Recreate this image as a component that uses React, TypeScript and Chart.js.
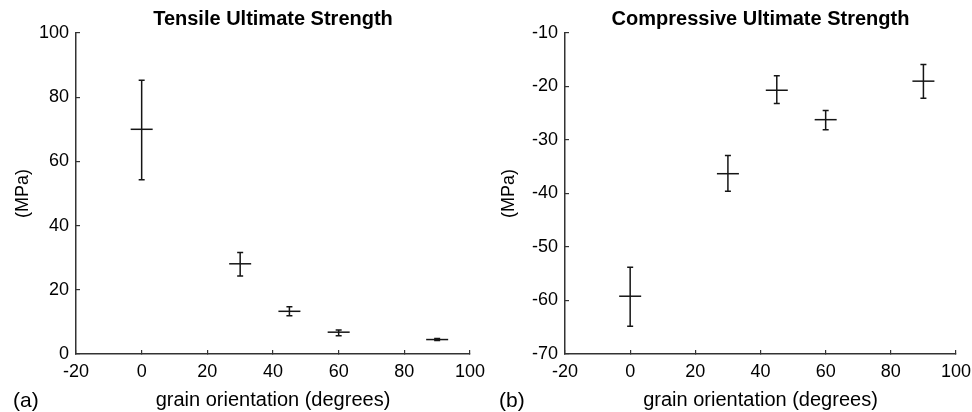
import React, { useEffect, useRef } from "react";
import { Chart, registerables } from "chart.js";

Chart.register(...registerables);

const FONT = "'Liberation Sans', Arial, Helvetica, sans-serif";

// Data
const angles = [0, 30, 45, 60, 90];
const tensileMean = [70, 28.1, 13.3, 6.8, 4.5];
const tensileLow = [54.3, 24.3, 11.9, 5.7, 4.2];
const tensileHigh = [85.3, 31.6, 14.7, 7.5, 4.8];
const compMean = [-59.2, -36.3, -20.7, -26.2, -19.0];
const compLow = [-64.8, -39.6, -23.2, -28.1, -22.2];
const compHigh = [-53.8, -32.9, -18.0, -24.5, -15.9];

const xTicks = [-20, 0, 20, 40, 60, 80, 100];
const tensileTicks = [0, 20, 40, 60, 80, 100];
const compTicks = [-70, -60, -50, -40, -30, -20, -10];

const errorBarPlugin = {
  id: "errorBars",
  afterDatasetsDraw(chart: any) {
    const { ctx, scales } = chart;
    const x = scales.x;
    const y = scales.y;
    chart.data.datasets.forEach((ds: any) => {
      ctx.save();
      ctx.strokeStyle = "#151515";
      ctx.lineWidth = 1.5;
      ds.data.forEach((p: any) => {
        const px = x.getPixelForValue(p.x);
        const yl = y.getPixelForValue(p.yMin);
        const yh = y.getPixelForValue(p.yMax);
        ctx.beginPath();
        ctx.moveTo(px, yl);
        ctx.lineTo(px, yh);
        ctx.moveTo(px - 3, yl);
        ctx.lineTo(px + 3, yl);
        ctx.moveTo(px - 3, yh);
        ctx.lineTo(px + 3, yh);
        ctx.stroke();
      });
      ctx.restore();
    });
  },
};

function makeConfig(
  title: string,
  means: number[],
  lows: number[],
  highs: number[],
  yTicks: number[],
  yWidth: number
): any {
  const data = angles.map((a, i) => ({ x: a, y: means[i], yMin: lows[i], yMax: highs[i] }));
  return {
    type: "scatter",
    data: {
      datasets: [
        {
          data,
          pointStyle: "line",
          pointRadius: 11,
          pointHoverRadius: 11,
          borderColor: "#151515",
          backgroundColor: "#151515",
          pointBorderWidth: 1.5,
          borderWidth: 1.5,
          showLine: false,
        },
      ],
    },
    options: {
      responsive: false,
      animation: false,
      devicePixelRatio: 1,
      layout: { padding: { left: 0, right: 16, top: 0, bottom: 0 } },
      plugins: {
        legend: { display: false },
        tooltip: { enabled: false },
        title: {
          display: true,
          text: title,
          fullSize: false,
          color: "#000",
          font: { family: FONT, size: 20, weight: "bold", lineHeight: 1 },
          padding: { top: 9, bottom: 4 },
        },
      },
      scales: {
        x: {
          type: "linear",
          position: "bottom",
          min: xTicks[0],
          max: xTicks[xTicks.length - 1],
          afterBuildTicks(s: any) {
            s.ticks = xTicks.map((v) => ({ value: v }));
          },
          ticks: {
            color: "#000",
            font: { family: FONT, size: 18 },
            padding: 11,
            maxRotation: 0,
            autoSkip: false,
          },
          grid: { drawOnChartArea: false, tickLength: -4, color: "#333", lineWidth: 1.2 },
          border: { display: true, color: "#333", width: 1.5 },
          title: {
            display: true,
            text: "grain orientation (degrees)",
            color: "#000",
            font: { family: FONT, size: 20 },
            padding: { top: 0, bottom: 0 },
          },
          afterFit(s: any) {
            s.height = 58;
            s.paddingLeft = 0;
            s.paddingRight = 0;
          },
        },
        y: {
          type: "linear",
          position: "left",
          min: yTicks[0],
          max: yTicks[yTicks.length - 1],
          afterBuildTicks(s: any) {
            s.ticks = yTicks.map((v) => ({ value: v }));
          },
          ticks: {
            color: "#000",
            font: { family: FONT, size: 18 },
            padding: 11,
            autoSkip: false,
          },
          grid: { drawOnChartArea: false, tickLength: -4, color: "#333", lineWidth: 1.2 },
          border: { display: true, color: "#333", width: 1.5 },
          title: {
            display: true,
            text: "(MPa)",
            color: "#000",
            font: { family: FONT, size: 18 },
            padding: { top: 12, bottom: 0 },
          },
          afterFit(s: any) {
            s.width = yWidth;
            s.paddingTop = 0;
            s.paddingBottom = 0;
          },
        },
      },
    },
    plugins: [errorBarPlugin],
  };
}

function Panel(props: {
  left: number;
  title: string;
  means: number[];
  lows: number[];
  highs: number[];
  yTicks: number[];
  yWidth: number;
  tag: string;
}) {
  const ref = useRef<HTMLCanvasElement>(null);
  useEffect(() => {
    if (!ref.current) return;
    const chart = new Chart(
      ref.current,
      makeConfig(props.title, props.means, props.lows, props.highs, props.yTicks, props.yWidth)
    );
    return () => chart.destroy();
  }, []);
  return (
    <div style={{ position: "absolute", left: props.left, top: 0, width: 486, height: 412 }}>
      <canvas ref={ref} width={486} height={412} style={{ display: "block", width: 486, height: 412 }} />
      <span
        style={{
          position: "absolute",
          left: 13,
          top: 389,
          fontFamily: FONT,
          fontSize: 21,
          lineHeight: "22px",
          color: "#000",
        }}
      >
        {props.tag}
      </span>
    </div>
  );
}

export default function App() {
  return (
    <div style={{ position: "fixed", left: 0, top: 0, width: 972, height: 412, background: "#fff", overflow: "hidden" }}>
      <Panel
        left={0}
        title="Tensile Ultimate Strength"
        means={tensileMean}
        lows={tensileLow}
        highs={tensileHigh}
        yTicks={tensileTicks}
        yWidth={76}
        tag="(a)"
      />
      <Panel
        left={486}
        title="Compressive Ultimate Strength"
        means={compMean}
        lows={compLow}
        highs={compHigh}
        yTicks={compTicks}
        yWidth={79}
        tag="(b)"
      />
    </div>
  );
}
